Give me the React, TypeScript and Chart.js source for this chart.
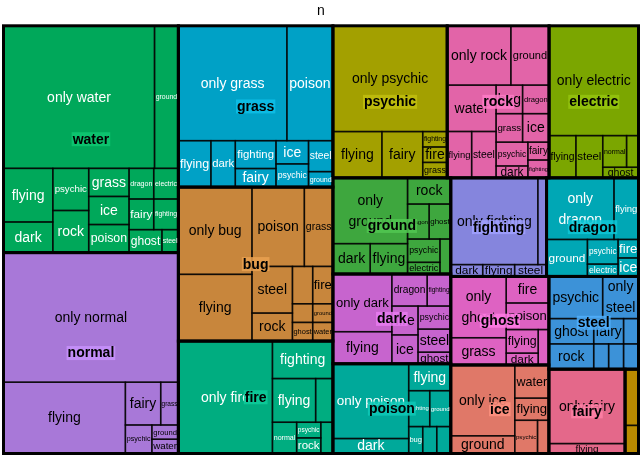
import { useEffect, useRef } from "react";
import { Chart, registerables } from "chart.js";

Chart.register(...registerables);

const FONT = '"Liberation Sans", Arial, Helvetica, sans-serif';

// Primary types (groups)
const primaryTypes = ["water","normal","grass","bug","fire","psychic","rock","electric","ground","dark","poison","fighting","dragon","ghost","ice","steel","fairy","flying"];

// Secondary types (subgroups) and counts n
const waterTypes = ["only water","ground","flying","dark","psychic","rock","grass","ice","poison","dragon","electric","fairy","fighting","ghost","steel"];
const waterCounts = [57,9,7,4,4,4,3,3,3,2,2,2,2,2,1];
const normalTypes = ["only normal","flying","fairy","grass","psychic","ground","water"];
const normalCounts = [60,23,4,2,2,1,1];
const grassTypes = ["only grass","poison","flying","dark","fighting","fairy","ice","psychic","steel","ground"];
const grassCounts = [33,14,4,3,3,2,2,2,2,1];
const bugTypes = ["only bug","flying","poison","grass","steel","rock","electric","fire","fighting","ghost","ground","water"];
const bugCounts = [17,13,11,6,5,3,2,2,1,1,1,1];
const fireTypes = ["only fire","fighting","flying","ground","normal","psychic","rock","water"];
const fireCounts = [28,6,5,2,2,1,1,1];
const psychicTypes = ["only psychic","flying","fairy","fighting","fire","grass"];
const psychicCounts = [32,6,5,1,1,1];
const rockTypes = ["only rock","ground","water","flying","steel","bug","dragon","grass","ice","psychic","dark","fairy","fighting"];
const rockCounts = [10,6,6,3,3,2,2,2,2,2,1,1,1];
const electricTypes = ["only electric","flying","steel","normal","fairy","ghost"];
const electricCounts = [26,3,3,2,1,1];
const groundTypes = ["only ground","dark","flying","rock","dragon","ghost","psychic","electric","steel"];
const groundCounts = [13,3,3,3,2,2,2,1,1];
const darkTypes = ["only dark","flying","dragon","fighting","fire","ice","psychic","steel","ghost"];
const darkCounts = [9,5,3,2,2,2,2,2,1];
const poisonTypes = ["only poison","dark","flying","fighting","ground","bug","dragon","water"];
const poisonCounts = [15,3,3,2,2,1,1,1];
const fightingTypes = ["only fighting","psychic","dark","flying","steel"];
const fightingCounts = [20,2,1,1,1];
const dragonTypes = ["only dragon","flying","ground","psychic","electric","fire","ice"];
const dragonCounts = [11,4,4,2,1,1,1];
const ghostTypes = ["only ghost","grass","fire","poison","flying","dark","dragon"];
const ghostCounts = [9,4,3,3,2,1,1];
const iceTypes = ["only ice","ground","water","flying","psychic","ghost"];
const iceCounts = [12,3,3,2,2,1];
const steelTypes = ["psychic","only steel","ghost","rock","fairy","dragon","fighting","flying","ground"];
const steelCounts = [6,4,3,3,2,1,1,1,1];
const fairyTypes = ["only fairy","flying"];
const fairyCounts = [15,2];
const flyingTypes = ["dragon","only flying"];
const flyingCounts = [2,1];

const secondaryTypes = [waterTypes,normalTypes,grassTypes,bugTypes,fireTypes,psychicTypes,rockTypes,electricTypes,groundTypes,darkTypes,poisonTypes,fightingTypes,dragonTypes,ghostTypes,iceTypes,steelTypes,fairyTypes,flyingTypes];
const secondaryCounts = [waterCounts,normalCounts,grassCounts,bugCounts,fireCounts,psychicCounts,rockCounts,electricCounts,groundCounts,darkCounts,poisonCounts,fightingCounts,dragonCounts,ghostCounts,iceCounts,steelCounts,fairyCounts,flyingCounts];

// Styles
const groupColors = ["#00A85A","#A878D8","#00A1C6","#C8863C","#00AD80","#A3A000","#E264A8","#7BA600","#3EA73E","#C764CE","#00A99A","#8585DD","#00A7B5","#DE62C2","#E07868","#3C92D8","#E4688A","#B98A00"];
const cellTextColors = ["#FFFFFF","#000000","#FFFFFF","#000000","#FFFFFF","#000000","#000000","#000000","#000000","#000000","#FFFFFF","#000000","#FFFFFF","#000000","#000000","#000000","#000000","#000000"];

type Item = { idx: number; v: number };
type Rect = { x: number; y: number; w: number; h: number };

function sortDesc(items: Item[]): Item[] {
  return items.slice().sort((a, b) => b.v - a.v);
}

// Ordered "pivot-by-size" treemap layout
function pivotLayout(items: Item[], r: Rect, out: Map<number, Rect>) {
  if (items.length === 0) return;
  if (items.length === 1) { out.set(items[0].idx, r); return; }
  const total = items.reduce((s, it) => s + it.v, 0);
  const P = items[0];
  const rest = items.slice(1);
  const wide = r.w >= r.h;
  let best = 0;
  let bestAsp = Infinity;
  let acc = P.v;
  for (let k = 0; k <= rest.length; k++) {
    if (k > 0) acc += rest[k - 1].v;
    let pw: number, ph: number;
    if (wide) { pw = (r.w * acc) / total; ph = (r.h * P.v) / acc; }
    else { ph = (r.h * acc) / total; pw = (r.w * P.v) / acc; }
    const asp = Math.max(pw / ph, ph / pw);
    if (asp < bestAsp - 1e-9) { bestAsp = asp; best = k; }
  }
  const L2 = rest.slice(0, best);
  const L3 = rest.slice(best);
  const sumP2 = P.v + L2.reduce((s, it) => s + it.v, 0);
  if (wide) {
    const sw = (r.w * sumP2) / total;
    const ph = (r.h * P.v) / sumP2;
    out.set(P.idx, { x: r.x, y: r.y, w: sw, h: ph });
    pivotLayout(L2, { x: r.x, y: r.y + ph, w: sw, h: r.h - ph }, out);
    pivotLayout(L3, { x: r.x + sw, y: r.y, w: r.w - sw, h: r.h }, out);
  } else {
    const sh = (r.h * sumP2) / total;
    const pw = (r.w * P.v) / sumP2;
    out.set(P.idx, { x: r.x, y: r.y, w: pw, h: sh });
    pivotLayout(L2, { x: r.x + pw, y: r.y, w: r.w - pw, h: sh }, out);
    pivotLayout(L3, { x: r.x, y: r.y + sh, w: r.w, h: r.h - sh }, out);
  }
}

function lighten(hex: string, a: number): string {
  const n = parseInt(hex.slice(1), 16);
  const r = Math.min(255, Math.round(((n >> 16) & 255) * 1.1 + 14));
  const g = Math.min(255, Math.round(((n >> 8) & 255) * 1.1 + 14));
  const b = Math.min(255, Math.round((n & 255) * 1.1 + 14));
  return `rgba(${r},${g},${b},${a})`;
}

const MAX_SIZE = 14;
const LINE_GAP = 1.5;

function drawLabel(ctx: CanvasRenderingContext2D, text: string, cx: number, cy: number, w: number, h: number, bold: boolean, color: string, bg: string | null) {
  const weight = bold ? "bold " : "";
  ctx.font = `${weight}${MAX_SIZE}px ${FONT}`;
  const tw = ctx.measureText(text).width;
  let lines = [text];
  let size = Math.min(MAX_SIZE, (MAX_SIZE * w * 0.9) / tw, h);
  const sp = text.indexOf(" ");
  if (!bg && sp > 0 && size < 12.95) {
    const parts = [text.slice(0, sp), text.slice(sp + 1)];
    const mw = Math.max(...parts.map((p) => ctx.measureText(p).width));
    const s2 = Math.min(MAX_SIZE, (MAX_SIZE * w * 0.9) / mw, h / (1 + LINE_GAP));
    if (s2 > size) { size = s2; lines = parts; }
  }
  if (size < 5.8) return;
  ctx.font = `${weight}${size}px ${FONT}`;
  ctx.textAlign = "center";
  ctx.textBaseline = "middle";
  if (bg) {
    const t = ctx.measureText(text).width;
    ctx.fillStyle = bg;
    ctx.fillRect(cx - t / 2 - 1, cy - size / 2, t + 2, size);
  }
  ctx.fillStyle = color;
  const gap = size * LINE_GAP;
  const y0 = cy - (gap * (lines.length - 1)) / 2;
  lines.forEach((ln, i) => ctx.fillText(ln, cx, y0 + i * gap + size * 0.04));
}

const treemapPlugin = {
  id: "treemapCells",
  afterDraw(chart: any) {
    const { ctx, chartArea, scales } = chart;
    const xs = scales.x;
    const ys = scales.y;
    const W = chartArea.right - chartArea.left;
    const H = chartArea.bottom - chartArea.top;
    const px = (r: Rect) => {
      const x1 = xs.getPixelForValue(r.x / W);
      const x2 = xs.getPixelForValue((r.x + r.w) / W);
      const y1 = ys.getPixelForValue(r.y / H);
      const y2 = ys.getPixelForValue((r.y + r.h) / H);
      return { x: x1, y: y1, w: x2 - x1, h: y2 - y1 };
    };
    const groupItems: Item[] = primaryTypes.map((_, i) => ({ idx: i, v: secondaryCounts[i].reduce((s, c) => s + c, 0) }));
    const groupRects = new Map<number, Rect>();
    pivotLayout(sortDesc(groupItems), { x: 0, y: 0, w: W, h: H }, groupRects);

    const cellRects: Map<number, Rect>[] = [];
    primaryTypes.forEach((_, g) => {
      const gr = groupRects.get(g)!;
      const items: Item[] = secondaryCounts[g].map((v, i) => ({ idx: i, v }));
      const m = new Map<number, Rect>();
      pivotLayout(sortDesc(items), gr, m);
      cellRects.push(m);
    });

    ctx.save();
    primaryTypes.forEach((_, g) => {
      cellRects[g].forEach((r) => {
        const p = px(r);
        ctx.fillStyle = groupColors[g];
        ctx.fillRect(p.x, p.y, p.w, p.h);
      });
    });
    ctx.strokeStyle = "rgba(0,0,0,0.72)";
    ctx.lineWidth = 1.5;
    primaryTypes.forEach((_, g) => {
      cellRects[g].forEach((r) => {
        const p = px(r);
        ctx.strokeRect(p.x, p.y, p.w, p.h);
      });
    });
    ctx.strokeStyle = "#000000";
    ctx.lineWidth = 3;
    primaryTypes.forEach((_, g) => {
      const p = px(groupRects.get(g)!);
      ctx.strokeRect(p.x, p.y, p.w, p.h);
    });
    primaryTypes.forEach((_, g) => {
      cellRects[g].forEach((r, i) => {
        const p = px(r);
        drawLabel(ctx, secondaryTypes[g][i], p.x + p.w / 2, p.y + p.h / 2, p.w, p.h, false, cellTextColors[g], null);
      });
    });
    primaryTypes.forEach((name, g) => {
      const p = px(groupRects.get(g)!);
      drawLabel(ctx, name, p.x + p.w / 2, p.y + p.h / 2, p.w, p.h, true, "#000000", lighten(groupColors[g], 0.86));
    });
    ctx.restore();
  },
};

export default function App() {
  const canvasRef = useRef<HTMLCanvasElement | null>(null);
  useEffect(() => {
    const canvas = canvasRef.current;
    if (!canvas) return;
    const chart = new Chart(canvas, {
      type: "scatter",
      data: { datasets: [{ data: [] }] },
      options: {
        animation: false,
        responsive: false,
        devicePixelRatio: 1,
        layout: { padding: { left: 3.5, right: 2.5, top: 0, bottom: 2.5 } },
        scales: {
          x: { type: "linear", min: 0, max: 1, display: false },
          y: { type: "linear", min: 0, max: 1, reverse: true, display: false },
        },
        plugins: {
          legend: { display: false },
          tooltip: { enabled: false },
          title: {
            display: true,
            text: "n",
            color: "#000000",
            font: { family: FONT, size: 14, weight: "normal" },
            padding: { top: 3, bottom: 6 },
          },
        },
      },
      plugins: [treemapPlugin],
    } as any);
    return () => chart.destroy();
  }, []);
  return (
    <div style={{ position: "fixed", left: 0, top: 0, width: 641, height: 456, background: "#ffffff" }}>
      <canvas ref={canvasRef} width={641} height={456} style={{ display: "block" }} />
    </div>
  );
}
